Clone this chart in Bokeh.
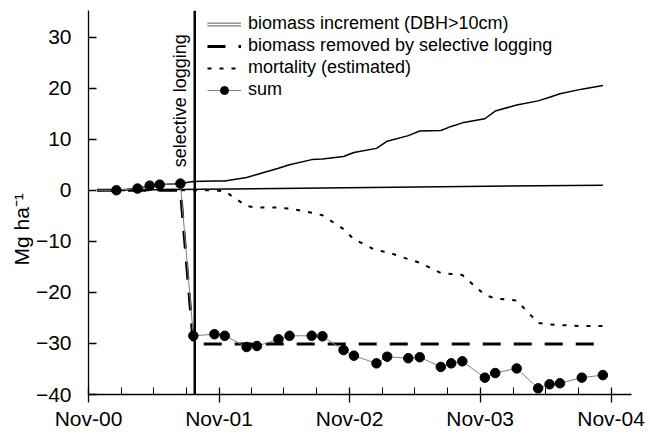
import math
import pandas as pd
from bokeh.plotting import figure
from bokeh.models import (Range1d, FixedTicker, DatetimeTickFormatter, Span, Label,
                          Legend, LegendItem, Title)
from bokeh.embed import file_html
from bokeh.resources import INLINE

# ---------------- data ----------------
dates = ["2000-11-25", "2001-01-18", "2001-03-18", "2001-04-21", "2001-05-19", "2001-07-16",
         "2001-08-21", "2001-10-19", "2001-11-17", "2002-01-17", "2002-02-15", "2002-04-16",
         "2002-05-17", "2002-07-18", "2002-08-17", "2002-10-15", "2002-11-13", "2003-01-15",
         "2003-02-14", "2003-04-14", "2003-05-16", "2003-07-14", "2003-08-12", "2003-09-12",
         "2003-11-14", "2003-12-13", "2004-02-11", "2004-04-11", "2004-05-13", "2004-06-11",
         "2004-08-11", "2004-10-09"]
increment = [0.0, 0.0, 0.33, 0.9, 1.1, 1.3, 1.7, 1.8, 1.8, 2.5, 3.1, 4.3, 5.0, 6.0, 6.1, 6.6,
             7.4, 8.2, 9.6, 10.7, 11.6, 11.7, 12.5, 13.2, 14.0, 15.5, 16.7, 17.5, 18.2, 18.9,
             19.8, 20.5]
logging_removed = [0.0, 0.0, 0.0, 0.0, 0.0, 0.0] + [-30.1] * 26
mortality = [0.0, 0.0, 0.0, 0.0, 0.0, 0.0, 0.0, 0.0, -0.2, -3.1, -3.4, -3.4, -3.6, -4.4, -4.9,
             -7.6, -9.6, -11.8, -12.1, -13.5, -14.2, -16.2, -16.4, -16.6, -20.5, -21.2, -21.6,
             -26.0, -26.3, -26.4, -26.6, -26.6]
total = [0.0, 0.0, 0.33, 0.9, 1.1, 1.3, -28.5, -28.2, -28.5, -30.7, -30.5, -29.2, -28.5, -28.5,
         -28.6, -31.3, -32.4, -33.9, -32.6, -32.9, -32.7, -34.6, -33.9, -33.5, -36.7, -35.8,
         -34.9, -38.8, -38.0, -37.8, -36.7, -36.2]
trend_dates = ["2000-11-25", "2004-10-09"]
trend_values = [0.0, 1.0]
logging_date = "2001-08-25"

x_start, x_end = "2000-11-01", "2004-12-28"
x_major = ["2000-11-01", "2001-11-01", "2002-11-01", "2003-11-01", "2004-11-01"]
x_minor = ["2001-02-01", "2001-05-01", "2001-08-01", "2002-02-01", "2002-05-01", "2002-08-01",
           "2003-02-01", "2003-05-01", "2003-08-01", "2004-02-01", "2004-05-01", "2004-08-01"]
y_ticks = [-40, -30, -20, -10, 0, 10, 20, 30]
y_min, y_max = -40, 35.2

labels = ["biomass increment (DBH>10cm)", "biomass removed by selective logging",
          "mortality (estimated)", "sum"]
y_label = "Mg ha\u207b\u00b9"


def ms(s):
    return pd.Timestamp(s).timestamp() * 1000.0


FONT = "Liberation Sans"
x = pd.to_datetime(dates)

p = figure(width=650, height=438, x_axis_type="datetime",
           x_range=Range1d(ms(x_start), ms(x_end)), y_range=Range1d(y_min, y_max),
           output_backend="svg", toolbar_location=None,
           min_border_left=88, min_border_right=19, min_border_top=10, min_border_bottom=44)
p.grid.visible = False
p.outline_line_color = None
p.background_fill_color = "white"
p.border_fill_color = "white"

# axes
xa = p.xaxis[0]
xa.ticker = FixedTicker(ticks=[ms(d) for d in x_major], minor_ticks=[ms(d) for d in x_minor])
fmt = "%b-%y"
xa.formatter = DatetimeTickFormatter(milliseconds=fmt, seconds=fmt, minsec=fmt, minutes=fmt,
                                     hourmin=fmt, hours=fmt, days=fmt, months=fmt, years=fmt)
xa.major_tick_in = 7
xa.major_tick_out = 8
xa.minor_tick_in = 7
xa.minor_tick_out = 0
xa.axis_line_width = 1.3
xa.major_tick_line_width = 1.3
xa.minor_tick_line_width = 1
xa.major_label_text_font = FONT
xa.major_label_text_font_size = "21px"
xa.major_label_text_color = "black"
xa.major_label_standoff = 4

ya = p.yaxis[0]
ya.ticker = FixedTicker(ticks=y_ticks)
ya.minor_tick_line_color = None
ya.major_tick_in = 8
ya.major_tick_out = 0
ya.axis_line_width = 1.3
ya.major_tick_line_width = 1.3
ya.major_label_text_font = FONT
ya.major_label_text_font_size = "21px"
ya.major_label_text_color = "black"
ya.major_label_standoff = 17

# y-axis title as a side-panel title so that it can sit below the centre
p.add_layout(Title(text=y_label, align="left", offset=129, text_font=FONT,
                   text_font_size="21px", text_font_style="normal", text_color="black",
                   standoff=0), "left")

# series
r_trend = p.line(pd.to_datetime(trend_dates), trend_values, line_color="black", line_width=1.5)
r_mort = p.line(x, mortality, line_color="black", line_width=2, line_dash="4 8")
r_log = p.line(x, logging_removed, line_color="black", line_width=3, line_dash="18 13")
r_inc = p.line(x, increment, line_color="black", line_width=1.5)
r_sum_line = p.line(x, total, line_color="#808080", line_width=1)
r_sum_pts = p.scatter(x[1:], total[1:], size=9.5, marker="circle",
                      fill_color="black", line_color="black")

# legend-only glyphs for the double-line key (no visible points in the plot)
nan = float("nan")
r_leg_outer = p.line(x[:1], [nan], line_color="#7a7a7a", line_width=4)
r_leg_inner = p.line(x[:1], [nan], line_color="white", line_width=1.5)

p.add_layout(Span(location=ms(logging_date), dimension="height", line_color="black",
                  line_width=2.5))

p.add_layout(Label(x=ms(logging_date), y=4.5, x_offset=-15, text="selective logging",
                   angle=math.pi / 2, text_font=FONT, text_font_size="18px",
                   text_align="left", text_baseline="alphabetic", text_color="black"))

legend = Legend(items=[
    LegendItem(label=labels[0], renderers=[r_leg_outer, r_leg_inner]),
    LegendItem(label=labels[1], renderers=[r_log]),
    LegendItem(label=labels[2], renderers=[r_mort]),
    LegendItem(label=labels[3], renderers=[r_sum_line, r_sum_pts]),
], location=(119, 294), glyph_width=34, glyph_height=20, label_standoff=7, spacing=1,
    padding=0, margin=0, border_line_color=None, background_fill_alpha=0,
    label_text_font=FONT, label_text_font_size="18px", label_text_color="black")
p.add_layout(legend)

open("out.html", "w").write(file_html(p, INLINE))
